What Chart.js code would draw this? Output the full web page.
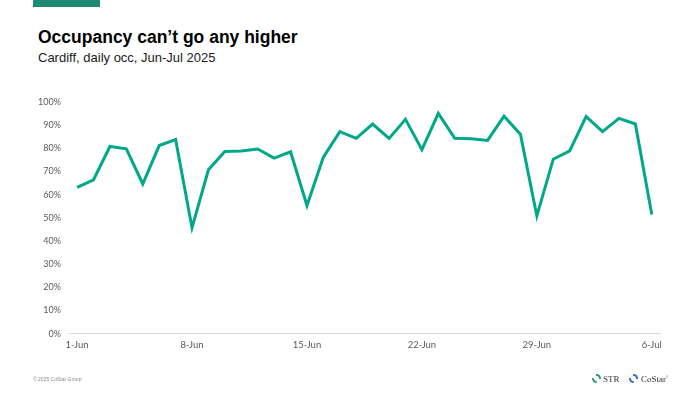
<!DOCTYPE html>
<html>
<head>
<meta charset="utf-8">
<script src="https://cdn.jsdelivr.net/npm/chart.js@4"></script>
<style>
  html, body { margin: 0; padding: 0; background: #fff; }
  #wrap { position: relative; width: 700px; height: 394px; overflow: hidden; font-family: "Liberation Sans", Arial, sans-serif; }
  #bar { position: absolute; left: 33px; top: 0; width: 67px; height: 7px; background: #1e8a72; }
  #title { position: absolute; left: 38px; top: 28.5px; font-size: 17.5px; line-height: 1; font-weight: bold; color: #000; white-space: nowrap; }
  #subtitle { position: absolute; left: 38px; top: 51px; font-size: 13px; line-height: 1; color: #1a1a1a; white-space: nowrap; }
  #copy { position: absolute; left: 33px; top: 377px; font-size: 5px; line-height: 1; color: #8a8a8a; white-space: nowrap; }
  .logo { position: absolute; top: 375px; font-family: "Liberation Serif", serif; font-size: 9px; line-height: 1; color: #333; white-space: nowrap; }
  .ring { position: absolute; top: 374px; width: 5px; height: 5px; border-radius: 50%; border: 2.5px dashed; }
  #chart { position: absolute; left: 0; top: 0; }
</style>
</head>
<body>
<div id="wrap">
  <div id="bar"></div>
  <div id="title">Occupancy can’t go any higher</div>
  <div id="subtitle">Cardiff, daily occ, Jun-Jul 2025</div>
  <canvas id="chart" width="700" height="394"></canvas>
  <div id="copy">© 2025 CoStar Group</div>
  <div class="ring" style="left:592px; border-color:#2b9a6e;"></div>
  <div class="logo" style="left:603px;">STR</div>
  <div class="ring" style="left:629px; border-color:#2a6fc0;"></div>
  <div class="logo" style="left:641px;">CoStar<sup style="font-size:3px">®</sup></div>
</div>
<script>
// Days from 1-Jun to 6-Jul 2025
const days = [
  '1-Jun', '2-Jun', '3-Jun', '4-Jun', '5-Jun', '6-Jun', '7-Jun',
  '8-Jun', '9-Jun', '10-Jun', '11-Jun', '12-Jun', '13-Jun', '14-Jun',
  '15-Jun', '16-Jun', '17-Jun', '18-Jun', '19-Jun', '20-Jun', '21-Jun',
  '22-Jun', '23-Jun', '24-Jun', '25-Jun', '26-Jun', '27-Jun', '28-Jun',
  '29-Jun', '30-Jun', '1-Jul', '2-Jul', '3-Jul', '4-Jul', '5-Jul', '6-Jul'
];
// Daily occupancy, percent
const occ = [
  63.1, 66.4, 80.8, 79.8, 64.6, 81.2, 83.8,
  45.7, 70.7, 78.6, 78.8, 79.7, 75.8, 78.5,
  55.3, 76.2, 87.2, 84.3, 90.5, 84.3, 92.5,
  79.4, 95.1, 84.3, 84.1, 83.4, 93.9, 86.1,
  50.8, 75.3, 78.9, 93.7, 87.2, 92.9, 90.5, 51.4
];
// Only every 7th day gets a label
const shownLabels = ['1-Jun', '8-Jun', '15-Jun', '22-Jun', '29-Jun', '6-Jul'];

new Chart(document.getElementById('chart'), {
  type: 'line',
  data: {
    labels: days,
    datasets: [{
      label: 'Occupancy',
      data: occ,
      borderColor: '#00a88a',
      borderWidth: 3,
      pointRadius: 0,
      tension: 0,
      fill: false
    }]
  },
  options: {
    responsive: false,
    animation: false,
    layout: { padding: { top: 102, left: 30, right: 40, bottom: 37 } },
    plugins: { legend: { display: false }, tooltip: { enabled: false } },
    scales: {
      x: {
        offset: true,
        grid: { display: false, drawTicks: false },
        border: { display: true, color: '#d9d9d9', width: 1 },
        ticks: {
          autoSkip: false,
          maxRotation: 0,
          padding: 6,
          color: '#595959',
          font: { family: 'Lato', size: 9.5 },
          callback: function(val, i) {
            const lab = this.getLabelForValue(val);
            return shownLabels.includes(lab) ? lab : '';
          }
        }
      },
      y: {
        min: 0,
        max: 100,
        grid: { display: false, drawTicks: false },
        border: { display: false },
        ticks: {
          stepSize: 10,
          padding: 8,
          color: '#595959',
          font: { family: 'Lato', size: 9 },
          callback: v => v + '%'
        }
      }
    }
  }
});
</script>
</body>
</html>
